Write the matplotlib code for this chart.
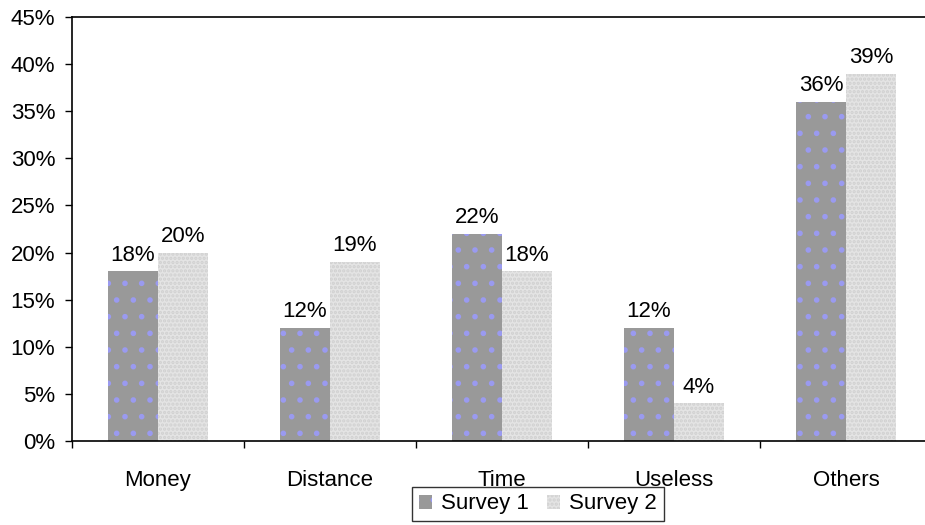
import numpy as np
import matplotlib.pyplot as plt
from matplotlib.ticker import FixedLocator

plt.rcParams['font.family'] = ['Liberation Sans', 'DejaVu Sans']
plt.rcParams['hatch.linewidth'] = 1.6

categorias = ["Money", "Distance", "Time", "Useless", "Others"]
survey1 = [18, 12, 22, 12, 36]
survey2 = [20, 19, 18, 4, 39]
yticks = np.arange(0, 50, 5)

x = np.arange(len(categorias))
ancho = 0.29
fs = 16

fig = plt.figure(figsize=(9.25, 5.25), dpi=100)
ax = fig.add_axes([72 / 925, 84 / 525, 860 / 925, 424 / 525])

b1 = ax.bar(x - ancho / 2, survey1, ancho, color="#999999", hatch=".",
            edgecolor="#9a9af0", linewidth=0, label="Survey 1")
b2 = ax.bar(x + ancho / 2, survey2, ancho, color="#e4e4e4", hatch="....",
            edgecolor="#d0d0d0", linewidth=0, label="Survey 2")

for barras, valores in [(b1, survey1), (b2, survey2)]:
    for rect, v in zip(barras, valores):
        ax.text(rect.get_x() + rect.get_width() / 2, v + 0.6, f"{v}%",
                ha="center", va="bottom", fontsize=fs)

ax.set_xlim(-0.5, 4.5)
ax.set_ylim(0, 45)
ax.set_yticks(yticks)
ax.set_yticklabels([f"{v}%" for v in yticks], fontsize=fs)
ax.set_xticks(x)
ax.set_xticklabels(categorias, fontsize=fs)
ax.xaxis.set_minor_locator(FixedLocator(np.arange(-0.5, 5, 1)))
ax.tick_params(axis="x", which="major", length=0, pad=21)
ax.tick_params(axis="x", which="minor", length=5, width=1, direction="out")
ax.tick_params(axis="y", length=5, width=1, direction="out", pad=7)

for lado in ["left", "bottom", "top"]:
    ax.spines[lado].set_linewidth(1.2)
ax.spines["right"].set_visible(False)

leg = fig.legend(loc="center", bbox_to_anchor=(538 / 925, 21 / 525),
                 ncol=2, fontsize=fs, frameon=True, fancybox=False,
                 edgecolor="black", handlelength=0.6, handleheight=0.6,
                 handletextpad=0.4, columnspacing=0.8, borderpad=0.3,
                 borderaxespad=0)
leg.get_frame().set_linewidth(1.0)

fig.savefig("out.png", dpi=100)
